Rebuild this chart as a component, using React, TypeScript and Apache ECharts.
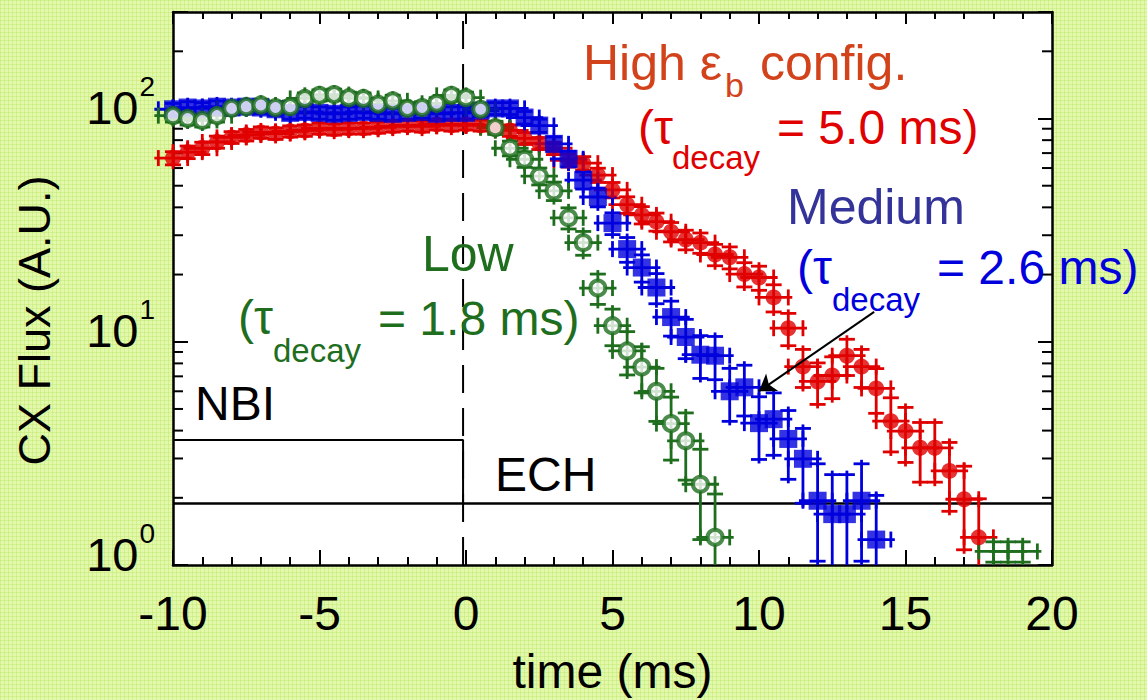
import React, { useEffect, useRef } from 'react';
import * as echarts from 'echarts';

const FONT = '"Liberation Sans", Arial, Helvetica, sans-serif';

// time axis of the samples (ms)
const timeMs = [-10, -9.5, -9, -8.5, -8, -7.5, -7, -6.5, -6, -5.5, -5, -4.5, -4, -3.5, -3, -2.5, -2, -1.5, -1, -0.5,
  0, 0.5, 1, 1.5, 2, 2.5, 3, 3.5, 4, 4.5, 5, 5.5, 6, 6.5, 7, 7.5, 8, 8.5, 9, 9.5,
  10, 10.5, 11, 11.5, 12, 12.5, 13, 13.5, 14, 14.5, 15, 15.5, 16, 16.5, 17, 17.5];

// High eps_b config (red, filled circles)
const highFlux = [66.5, 70.7, 73.6, 78.5, 82.3, 84.3, 86.6, 85.7, 87.6, 88.4,
  90.3, 89.4, 90.3, 90.3, 91.2, 92.2, 93.1, 92.2, 94.1, 93.1,
  94.1, 93.1, 91.2, 88.4, 81.5, 77.4, 73.6, 65.0, 63.1, 55.8,
  47.9, 41.1, 37.0, 34.5, 31.1, 28.7, 27.8, 24.6, 23.9, 20.1,
  19.4, 15.8, 11.5, 7.74, 6.64, 7.06, 8.66, 7.74, 6.18, 4.41,
  3.98, 3.35, 3.35, 2.64, 1.97, 1.33];
const highErr = [4.5, 4.6, 4.7, 4.9, 5.0, 5.0, 5.1, 5.1, 5.1, 5.2,
  5.2, 5.2, 5.2, 5.2, 5.3, 5.3, 5.3, 5.3, 5.3, 5.3,
  5.3, 5.3, 5.3, 5.2, 5.0, 4.8, 4.7, 4.4, 4.4, 4.1,
  3.8, 3.5, 3.3, 3.2, 3.1, 2.9, 2.9, 2.7, 2.7, 2.5,
  2.4, 2.2, 1.9, 1.5, 1.4, 1.5, 1.6, 1.5, 1.4, 1.2,
  1.1, 1.0, 1.0, 0.9, 0.8, 0.65];

// Medium (blue, filled squares)
const mediumFlux = [110, 112, 111, 113, 112, 113, 112, 110, 106, 107,
  106, 105, 106, 107, 106, 105, 106, 107, 105, 106,
  106, 108.5, 111, 111, 101, 93, 77, 66, 53, 44.5,
  34, 26, 21.5, 17.5, 12.9, 10.5, 8.75, 8.66, 6.0, 6.25,
  4.32, 4.5, 3.67, 2.99, 1.94, 1.69, 1.69, 1.94, 1.30];
const mediumErr = [6.8, 6.9, 6.8, 6.9, 6.9, 6.9, 6.9, 6.8, 6.7, 6.7,
  6.7, 6.7, 6.7, 6.7, 6.7, 6.7, 6.7, 6.7, 6.7, 6.7,
  6.7, 6.8, 6.8, 6.8, 6.5, 6.3, 5.7, 5.3, 4.7, 4.3,
  3.8, 3.3, 3.0, 2.7, 2.3, 2.1, 1.9, 1.9, 1.6, 1.6,
  1.35, 1.4, 1.25, 1.1, 0.9, 0.85, 0.85, 0.9, 0.75];

// Low (green, open circles)
const lowFlux = [103, 100, 98, 103, 111, 113, 115, 112, 113, 123,
  127, 128, 124, 123, 116, 120, 111, 112, 117, 127,
  124, 110, 91, 73.6, 65.7, 55.2, 47.4, 35.9, 27.8, 17.4,
  11.8, 9.1, 7.7, 6.0, 4.3, 3.6, 2.3, 1.33];
const lowErr = [6.6, 6.5, 6.4, 6.6, 6.8, 6.9, 7.0, 6.9, 6.9, 7.2,
  7.3, 7.4, 7.2, 7.2, 7.0, 7.1, 6.8, 6.9, 7.0, 7.3,
  7.2, 6.8, 6.2, 5.6, 5.3, 4.8, 4.5, 3.9, 3.4, 2.7,
  2.2, 2.0, 1.8, 1.6, 1.35, 1.2, 1.0, 0.75];
// low-config samples whose markers fall at the bottom (error bars only)
const lowTailTime = [18, 18.5, 19];
const lowTailFlux = [1.15, 1.15, 1.15];
const lowTailErr = [0.12, 0.12, 0.12];

const timeHalfWidth = 0.5; // horizontal error (ms)

// heating waveforms
const nbiLine = [[-10, 3.63], [-0.1, 3.63], [-0.1, 1.886]];
const echLine = [[-10, 1.886], [20, 1.886]];
const switchLine = [[-0.1, 1], [-0.1, 300]];
const arrowFrom = [13.93, 13.6];
const arrowTo = [10.0, 6.0];

const yMinorTicks = [2, 3, 4, 5, 6, 7, 8, 9, 20, 30, 40, 50, 60, 70, 80, 90, 200];

const RED = '#e00000';
const RED_ORANGE = '#d2431b';
const BLUE = '#0000dd';
const BLUE_DARK = '#333399';
const GREEN = '#1e6e1e';

function zip(t: number[], v: number[], e: number[]) {
  return v.map((val, i) => [t[i], val, e[i]]);
}

function errorBars(name: string, data: number[][], color: string) {
  return {
    type: 'custom',
    name,
    data,
    encode: { x: 0, y: 1 },
    silent: true,
    renderItem: (params: any, api: any) => {
      const cs = params.coordSys;
      const x = api.value(0);
      const y = api.value(1);
      const e = api.value(2);
      const c = api.coord([x, y]);
      const hi = api.coord([x, y + e])[1];
      const lo = api.coord([x, Math.max(y - e, 0.05)])[1];
      const xl = api.coord([x - timeHalfWidth, y])[0];
      const xr = api.coord([x + timeHalfWidth, y])[0];
      const top = cs.y;
      const bot = cs.y + cs.height;
      const cy = (v: number) => Math.min(Math.max(v, top), bot);
      const inY = (v: number) => v >= top && v <= bot;
      const cap = 8;
      const over = 4;
      const segs: number[][] = [];
      segs.push([c[0], cy(hi - over), c[0], cy(lo + over)]);
      if (inY(c[1])) segs.push([xl - over, c[1], xr + over, c[1]]);
      if (inY(hi)) segs.push([c[0] - cap, hi, c[0] + cap, hi]);
      if (inY(lo)) segs.push([c[0] - cap, lo, c[0] + cap, lo]);
      segs.push([xl, cy(c[1] - cap), xl, cy(c[1] + cap)]);
      segs.push([xr, cy(c[1] - cap), xr, cy(c[1] + cap)]);
      return {
        type: 'group',
        children: segs.map((s) => ({
          type: 'line',
          shape: { x1: s[0], y1: s[1], x2: s[2], y2: s[3] },
          style: { stroke: color, lineWidth: 2.8 },
        })),
      };
    },
  };
}

function label(text: string, x: number, y: number, size: number, color: string) {
  return {
    type: 'text',
    x,
    y,
    silent: true,
    z: 20,
    style: { text, fontSize: size, fill: color, fontFamily: FONT, align: 'left', verticalAlign: 'middle' },
  };
}

export default function App() {
  const ref = useRef<HTMLDivElement>(null);

  useEffect(() => {
    if (!ref.current) return;
    const chart = echarts.init(ref.current, undefined, { renderer: 'svg' });
    const axisLine = { show: true, onZero: false, lineStyle: { color: '#000', width: 2.5 } };
    const tickStyle = { color: '#000', width: 2 };

    const option: any = {
      animation: false,
      backgroundColor: 'transparent',
      grid: { left: 173, right: 95, top: 12, bottom: 132, show: true, backgroundColor: '#ffffff', borderWidth: 0 },
      xAxis: [
        {
          type: 'value', min: -10, max: 20, interval: 5, position: 'bottom',
          name: 'time (ms)', nameLocation: 'middle', nameGap: 82,
          nameTextStyle: { fontSize: 48, color: '#000', fontFamily: FONT },
          axisLine,
          axisTick: { show: true, inside: true, length: 15, lineStyle: tickStyle },
          minorTick: { show: true, splitNumber: 5, length: 8, lineStyle: tickStyle },
          axisLabel: { fontSize: 48, color: '#000', fontFamily: FONT, margin: 24 },
          splitLine: { show: false },
        },
        {
          type: 'value', min: -10, max: 20, interval: 5, position: 'top',
          axisLine,
          axisTick: { show: true, inside: true, length: 12, lineStyle: tickStyle },
          minorTick: { show: true, splitNumber: 5, length: 7, lineStyle: tickStyle },
          axisLabel: { show: false },
          splitLine: { show: false },
        },
      ],
      yAxis: [
        {
          type: 'log', logBase: 10, min: 1, max: 300, position: 'left',
          name: 'CX Flux (A.U.)', nameLocation: 'middle', nameGap: 116,
          nameTextStyle: { fontSize: 45, color: '#000', fontFamily: FONT, padding: [0, 64, 0, 0] },
          axisLine,
          axisTick: { show: true, inside: true, length: 15, lineStyle: tickStyle },
          axisLabel: {
            margin: 18,
            padding: [0, 0, 22, 0],
            formatter: (v: number) => {
              const l = Math.log10(v);
              const e = Math.round(l);
              if (Math.abs(l - e) > 1e-6) return '';
              return `{b|10}{s|${e}}`;
            },
            rich: {
              b: { fontSize: 47, lineHeight: 47, color: '#000', fontFamily: FONT },
              s: { fontSize: 28, lineHeight: 28, color: '#000', fontFamily: FONT, padding: [0, 0, 42, 1] },
            },
          },
          splitLine: { show: false },
        },
        {
          type: 'log', logBase: 10, min: 1, max: 300, position: 'right',
          axisLine,
          axisTick: { show: true, inside: true, length: 14, lineStyle: tickStyle },
          axisLabel: { show: false },
          splitLine: { show: false },
        },
      ],
      series: [
        {
          type: 'custom', name: 'log minor ticks', silent: true,
          data: yMinorTicks.map((v) => [-10, v]),
          encode: { x: 0, y: 1 },
          renderItem: (params: any, api: any) => {
            const cs = params.coordSys;
            const y = api.coord([api.value(0), api.value(1)])[1];
            return {
              type: 'group',
              children: [
                { type: 'line', shape: { x1: cs.x, y1: y, x2: cs.x + 10, y2: y }, style: { stroke: '#000', lineWidth: 2 } },
                { type: 'line', shape: { x1: cs.x + cs.width - 10, y1: y, x2: cs.x + cs.width, y2: y }, style: { stroke: '#000', lineWidth: 2 } },
              ],
            };
          },
        },
        {
          type: 'line', name: 'NBI', data: nbiLine, symbol: 'none', silent: true,
          lineStyle: { color: '#000', width: 2 }, z: 1,
        },
        {
          type: 'line', name: 'ECH', data: echLine, symbol: 'none', silent: true,
          lineStyle: { color: '#000', width: 2.5 }, z: 1,
        },
        {
          type: 'line', name: 'switch', data: switchLine, symbol: 'none', silent: true,
          lineStyle: { color: '#000', width: 2, type: [28, 15] }, z: 1,
        },
        errorBars('High err', zip(timeMs, highFlux, highErr), RED),
        {
          type: 'scatter', name: 'High εb config.', data: highFlux.map((v, i) => [timeMs[i], v]),
          symbol: 'circle', symbolSize: 16, clip: false, itemStyle: { color: RED },
        },
        errorBars('Medium err', zip(timeMs, mediumFlux, mediumErr), BLUE),
        {
          type: 'scatter', name: 'Medium', data: mediumFlux.map((v, i) => [timeMs[i], v]),
          symbol: 'rect', symbolSize: 18, clip: false, itemStyle: { color: BLUE },
        },
        errorBars('Low err', zip(timeMs, lowFlux, lowErr), GREEN),
        errorBars('Low tail err', zip(lowTailTime, lowTailFlux, lowTailErr), GREEN),
        {
          type: 'scatter', name: 'Low', data: lowFlux.map((v, i) => [timeMs[i], v]),
          symbol: 'circle', symbolSize: 15, clip: false,
          itemStyle: { color: '#ffffff', borderColor: GREEN, borderWidth: 4 },
        },
        {
          type: 'line', name: 'arrow', data: [], silent: true,
          markLine: {
            silent: true, symbol: ['none', 'arrow'], symbolSize: 16,
            label: { show: false },
            lineStyle: { color: '#000', width: 2, type: 'solid' },
            data: [[{ coord: arrowFrom }, { coord: arrowTo }]],
          },
        },
      ],
      graphic: [
        label('High ε', 583, 63, 50, RED_ORANGE),
        label('b', 725, 85, 34, RED_ORANGE),
        label('config.', 760, 63, 50, RED_ORANGE),
        label('(τ', 638, 127, 48, RED),
        label('decay', 672, 157, 33, RED),
        label('= 5.0 ms)', 777, 127, 48, RED),
        label('Medium', 787, 207, 50, BLUE_DARK),
        label('(τ', 797, 267, 48, BLUE),
        label('decay', 832, 299, 33, BLUE),
        label('= 2.6 ms)', 937, 267, 48, BLUE),
        label('Low', 422, 254, 50, GREEN),
        label('(τ', 238, 317, 48, GREEN),
        label('decay', 273, 350, 33, GREEN),
        label('= 1.8 ms)', 378, 318, 48, GREEN),
        label('NBI', 195, 403, 48, '#000'),
        label('ECH', 495, 474, 48, '#000'),
      ],
    };
    chart.setOption(option);
    return () => chart.dispose();
  }, []);

  return (
    <div
      style={{
        position: 'fixed', left: 0, top: 0, width: 1147, height: 700,
        backgroundColor: '#e3f8aa',
        backgroundImage:
          'linear-gradient(rgba(196,234,120,0.55) 1px, transparent 1px), linear-gradient(90deg, rgba(196,234,120,0.55) 1px, transparent 1px)',
        backgroundSize: '4px 4px',
      }}
    >
      <div ref={ref} style={{ width: 1147, height: 700 }} />
    </div>
  );
}
